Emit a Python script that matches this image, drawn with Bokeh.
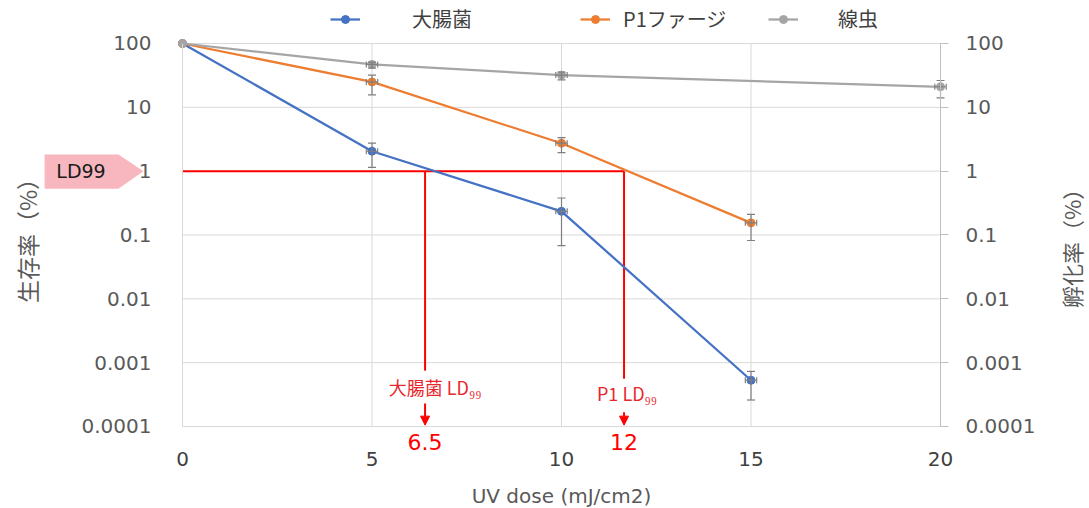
import math
from bokeh.plotting import figure
from bokeh.models import (Range1d, FixedTicker, LogAxis, LinearAxis, CustomJSTickFormatter,
                          ColumnDataSource, Whisker, TeeHead, Legend, LegendItem, Label, Arrow,
                          NormalHead, PolyAnnotation)
from bokeh.embed import file_html
from bokeh.resources import INLINE

# ---------------- data ----------------
series_names = ["大腸菌", "P1ファージ", "線虫"]
series_colors = ["#4472C4", "#ED7D31", "#A5A5A5"]

x_ecoli = [0, 5, 10, 15]
y_ecoli = [100, 2.05, 0.235, 0.00053]
ecoli_upper = [100, 2.75, 0.38, 0.00073]
ecoli_lower = [100, 1.15, 0.068, 0.00026]

x_p1 = [0, 5, 10, 15]
y_p1 = [100, 25.0, 2.74, 0.155]
p1_upper = [100, 32.0, 3.35, 0.21]
p1_lower = [100, 15.7, 1.95, 0.082]

x_worm = [0, 5, 10, 20]
y_worm = [100, 47.0, 32.0, 21.0]
worm_upper = [100, 51.0, 35.5, 26.3]
worm_lower = [100, 41.0, 27.0, 14.1]

x_err = [0.0, 0.15, 0.15, 0.15]

x_ticks = [0, 5, 10, 15, 20]
y_ticks = [0.0001, 0.001, 0.01, 0.1, 1, 10, 100]
y_tick_labels = ["0.0001", "0.001", "0.01", "0.1", "1", "10", "100"]

ld99_level = 1
ld99_marks = [6.4, 11.65]          # where the red guide lines drop
ld99_values = ["6.5", "12"]
ld99_names = ["大腸菌 LD₉₉", "P1 LD₉₉"]

# ---------------- styling ----------------
NUM_FONT = "DejaVu Sans"
JP_FONT = "Noto Sans CJK JP"
RED = "#FF0000"
RED_TXT = "#E8262B"
GRID = "#D9D9D9"
ERR = "#7F7F7F"

X_LO, X_HI = x_ticks[0], x_ticks[-1]
Y_LO, Y_HI = y_ticks[0], y_ticks[-1]

# the frame covers the whole canvas; the axes sit at fixed positions inside it
p = figure(width=1089, height=508, x_range=Range1d(-4.802, 23.931),
           y_range=Range1d(10 ** -5.2846, 10 ** 2.6736), y_axis_type="log",
           x_axis_location=None, y_axis_location=None, title=None,
           output_backend="svg", toolbar_location=None, min_border=0)
p.outline_line_color = None
p.background_fill_color = "white"
p.border_fill_color = "white"
p.xgrid.visible = False
p.ygrid.visible = False


def make_fmt():
    return CustomJSTickFormatter(args=dict(tvals=y_ticks, tlabels=y_tick_labels), code="""
        for (let i = 0; i < tvals.length; i++) {
            if (Math.abs(Math.log10(tvals[i]) - Math.log10(tick)) < 1e-6) return tlabels[i];
        }
        return '';
    """)


# grid lines (only across the data area)
p.segment(x0=[X_LO] * len(y_ticks), y0=y_ticks, x1=[X_HI] * len(y_ticks), y1=y_ticks,
          line_color=GRID, line_width=1)
p.segment(x0=x_ticks[1:-1], y0=[Y_LO] * 3, x1=x_ticks[1:-1], y1=[Y_HI] * 3,
          line_color=GRID, line_width=1)

# left axis
ly = LogAxis(fixed_location=X_LO, bounds=(Y_LO, Y_HI), ticker=FixedTicker(ticks=y_ticks),
             formatter=make_fmt())
ly.axis_label = "生存率（%）"
ly.axis_label_text_font = JP_FONT
ly.axis_label_text_font_size = "23px"
ly.axis_label_text_font_style = "normal"
ly.axis_label_text_color = "#595959"
ly.axis_label_standoff = 35
ly.major_label_text_font = NUM_FONT
ly.major_label_text_font_size = "20px"
ly.major_label_text_color = "#595959"
ly.major_label_standoff = 25
ly.major_tick_line_color = None
ly.minor_tick_line_color = None
ly.axis_line_color = GRID
p.add_layout(ly, "left")

# right axis
ry = LogAxis(fixed_location=X_HI, bounds=(Y_LO, Y_HI), ticker=FixedTicker(ticks=y_ticks),
             formatter=make_fmt())
ry.major_label_text_font = NUM_FONT
ry.major_label_text_font_size = "20px"
ry.major_label_text_color = "#595959"
ry.major_label_standoff = 17
ry.major_tick_out = 8
ry.major_tick_in = 0
ry.major_tick_line_color = "#BFBFBF"
ry.minor_tick_line_color = None
ry.axis_line_color = "#BFBFBF"
p.add_layout(ry, "right")

# bottom axis
bx = LinearAxis(fixed_location=Y_LO, bounds=(X_LO, X_HI), ticker=FixedTicker(ticks=x_ticks))
bx.axis_label = "UV dose (mJ/cm2)"
bx.axis_label_text_font = NUM_FONT
bx.axis_label_text_font_size = "20px"
bx.axis_label_text_font_style = "normal"
bx.axis_label_text_color = "#595959"
bx.axis_label_standoff = 14
bx.major_label_text_font = NUM_FONT
bx.major_label_text_font_size = "20px"
bx.major_label_text_color = "#404040"
bx.major_label_standoff = 20
bx.major_tick_line_color = None
bx.minor_tick_line_color = None
bx.axis_line_color = GRID
p.add_layout(bx, "below")

# right axis title, reading bottom to top
p.add_layout(Label(x=23.43, y=0.075, text="孵化率（%）", angle=math.pi / 2,
                   text_align="center", text_baseline="middle",
                   text_font=JP_FONT, text_font_size="22px", text_color="#595959"))

# red LD99 guide lines (under the series)
p.segment(x0=[X_LO], y0=[ld99_level], x1=[ld99_marks[1]], y1=[ld99_level], line_color=RED, line_width=2)
guide_ends = [7.5e-4, 5.6e-4]
p.segment(x0=ld99_marks, y0=[ld99_level] * 2, x1=ld99_marks, y1=guide_ends, line_color=RED, line_width=2)

# series
series = [
    (x_ecoli, y_ecoli, ecoli_upper, ecoli_lower),
    (x_p1, y_p1, p1_upper, p1_lower),
    (x_worm, y_worm, worm_upper, worm_lower),
]
renderers = []
for (xs, ys, up, lo), color in zip(series, series_colors):
    src = ColumnDataSource(dict(x=xs[1:], y=ys[1:], upper=up[1:], lower=lo[1:],
                                xl=[a - e for a, e in zip(xs[1:], x_err[1:])],
                                xu=[a + e for a, e in zip(xs[1:], x_err[1:])]))
    p.add_layout(Whisker(base="x", upper="upper", lower="lower", source=src, dimension="height",
                         line_color=ERR, line_width=1.2, level="glyph",
                         upper_head=TeeHead(size=8, line_color=ERR, line_width=1.2),
                         lower_head=TeeHead(size=8, line_color=ERR, line_width=1.2)))
    p.add_layout(Whisker(base="y", upper="xu", lower="xl", source=src, dimension="width",
                         line_color=ERR, line_width=1.2, level="glyph",
                         upper_head=TeeHead(size=6, line_color=ERR, line_width=1.2),
                         lower_head=TeeHead(size=6, line_color=ERR, line_width=1.2)))
    lr = p.line(xs, ys, line_color=color, line_width=2.25)
    sr = p.scatter(xs, ys, marker="circle", size=8, fill_color=color, line_color=color)
    renderers.append([lr, sr])

# legends (three separate items, spaced as in the original)
legend_x = [330, 580, 768]
legend_standoff = [52, 13, 40]
for name, rs, lx, so in zip(series_names, renderers, legend_x, legend_standoff):
    lg = Legend(items=[LegendItem(label=name, renderers=rs)], location=(lx, 475),
                orientation="horizontal", glyph_width=30, glyph_height=20, label_height=20,
                label_standoff=so, padding=0, margin=0, spacing=0,
                border_line_color=None, background_fill_alpha=0,
                label_text_font=JP_FONT, label_text_font_size="20px", label_text_color="#404040")
    p.add_layout(lg)

# LD99 annotations
label_y = [4.1e-4, 3.3e-4]
label_dx = [10, 3]
arrow_start = [2.3e-4, 1.67e-4]
value_y = 5.7e-5
for mx, name, val, ly_, dx, ys in zip(ld99_marks, ld99_names, ld99_values, label_y, label_dx, arrow_start):
    p.add_layout(Label(x=mx, y=ly_, text=name, x_offset=dx, text_align="center", text_baseline="middle",
                       text_font=JP_FONT, text_font_size="18px", text_color=RED_TXT))
    p.add_layout(Arrow(x_start=mx, y_start=ys, x_end=mx, y_end=1.05e-4, line_color=RED, line_width=2,
                       end=NormalHead(size=9, fill_color=RED, line_color=RED)))
    p.add_layout(Label(x=mx, y=value_y, text=val, text_align="center", text_baseline="middle",
                       text_font=NUM_FONT, text_font_size="22px", text_color=RED))

# pink LD99 tag beside the 1% level
p.add_layout(PolyAnnotation(xs=[-3.64, -1.69, -1.03, -1.69, -3.64],
                            ys=[1.82, 1.82, ld99_level, 0.53, 0.53],
                            fill_color="#F8B7BF", fill_alpha=1, line_color=None, level="underlay"))
p.add_layout(Label(x=-3.33, y=ld99_level, text="LD99", text_baseline="middle", text_align="left",
                   text_font=NUM_FONT, text_font_size="19px", text_color="#1A1A1A"))

open("out.html", "w").write(file_html(p, INLINE))
